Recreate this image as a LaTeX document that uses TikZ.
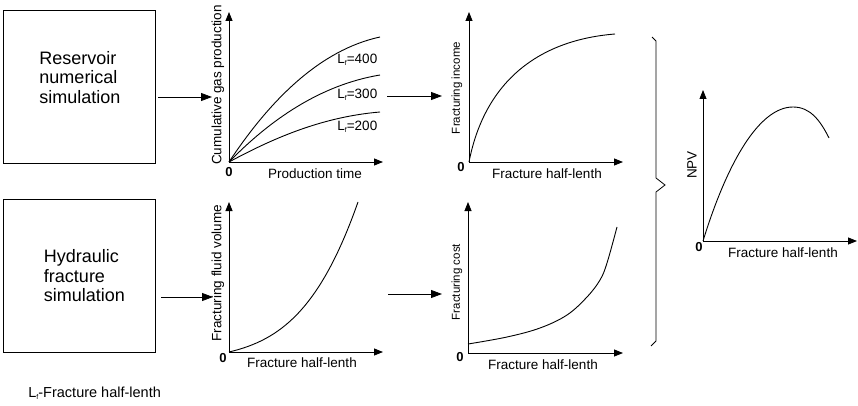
\documentclass[tikz,border=0pt]{standalone}
\usepackage{fontspec}
\setmainfont{Liberation Sans}
\usetikzlibrary{arrows.meta}
\newcommand{\Lsubf}{L\raisebox{-2.5pt}{\fontsize{7}{7}\selectfont f}}
\begin{document}
\begin{tikzpicture}[x=1pt,y=-1pt,line width=0.8pt,
  axis/.style={-{Triangle[length=9pt,width=7pt]}},
  flow/.style={-{Triangle[length=11pt,width=8pt]}},
  crv/.style={line width=0.9pt},
  lab/.style={font=\fontsize{13.5}{15}\selectfont,inner sep=0pt},
  slab/.style={font=\fontsize{11.5}{13}\selectfont,inner sep=0pt},
  zero/.style={font=\fontsize{13}{14}\selectfont\bfseries,inner sep=0pt},
  boxtxt/.style={font=\fontsize{18}{19.5}\selectfont,align=left,inner sep=0pt},
  simbox/.style={draw,minimum width=152pt,minimum height=153pt,inner sep=0pt}]
\useasboundingbox (0,0) rectangle (858,406);

% boxes
\node[simbox] (box1) at (79,86.5) {};
\node[boxtxt] (box1t) at (80,77.5) {Reservoir\\numerical\\simulation};
\node[simbox] (box2) at (79,276) {};
\node[boxtxt] (box2t) at (84.5,276) {Hydraulic\\fracture\\simulation};

% arrow coordinates
\coordinate (a1) at (212,97);
\coordinate (a2) at (213,297);
\draw[flow] (box1.east |- a1) ++(3,0) -- (a1);
\draw[flow] (box2.east |- a2) ++(6,0) -- (a2);
\coordinate (m1s) at (387,96);
\coordinate (m1e) at (442,96);
\coordinate (m2s) at (388,294);
\coordinate (m2e) at (442,294);
\draw[flow] (m1s) -- (m1e);
\draw[flow] (m2s) -- (m2e);

% graph 1: cumulative gas production
\coordinate (o1) at (229,162);
\coordinate (y1) at (229,12);
\coordinate (x1) at (383,162);
\draw[axis] (o1) -- (y1);
\draw[axis] (o1) -- (x1);
\draw[crv] (o1) .. controls (270,100) and (320,50) .. (380,37);
\draw[crv] (o1) .. controls (270,120) and (320,85) .. (380,75);
\draw[crv] (o1) .. controls (270,140) and (320,117) .. (380,112);
\node[lab,anchor=west] (l400) at (337,60) {\Lsubf=400};
\node[lab,anchor=west] (l300) at (337,95) {\Lsubf=300};
\node[lab,anchor=west] (l200) at (337,127) {\Lsubf=200};
\node[zero] (z1) at (229,172) {0};
\node[lab] (xl1) at (315,174) {Production time};
\node[lab,rotate=90] (yl1) at (218,85) {Cumulative gas production};

% graph 2: fracturing income
\coordinate (o2) at (469,162);
\coordinate (y2) at (469,12);
\coordinate (x2) at (623,162);
\draw[axis] (o2) -- (y2);
\draw[axis] (o2) -- (x2);
\draw[crv] (o2) .. controls (485,80) and (540,40) .. (615,34);
\node[zero] (z2) at (461,167) {0};
\node[lab] (xl2) at (547,174) {Fracture half-lenth};
\node[slab,rotate=90] (yl2) at (457,88) {Fracturing income};

% graph 3: fracturing fluid volume
\coordinate (o3) at (229,352);
\coordinate (y3) at (229,202);
\coordinate (x3) at (383,352);
\draw[axis] (o3) -- (y3);
\draw[axis] (o3) -- (x3);
\draw[crv] (o3) .. controls (280,340) and (320,310) .. (358,202);
\node[zero] (z3) at (223,358) {0};
\node[lab] (xl3) at (302,363) {Fracture half-lenth};
\node[lab,rotate=90] (yl3) at (218,273) {Fracturing fluid volume};

% graph 4: fracturing cost
\coordinate (o4) at (468,353);
\coordinate (y4) at (468,202);
\coordinate (x4) at (623,353);
\draw[axis] (o4) -- (y4);
\draw[axis] (o4) -- (x4);
\draw[crv,smooth,tension=0.6] plot coordinates {(468,344) (507,337) (540,328) (567,315) (587,297) (600,280) (607,263) (617,227)};
\node[zero] (z4) at (460,357) {0};
\node[lab] (xl4) at (543,365) {Fracture half-lenth};
\node[slab,rotate=90] (yl4) at (457,282) {Fracturing cost};

% brace
\draw[line width=0.8pt] (652,37) -- (656,41) -- (656,178) -- (665,185) -- (656,192) -- (656,341) -- (651,346);

% graph 5: NPV
\coordinate (o5) at (703,241);
\coordinate (y5) at (703,90);
\coordinate (x5) at (857,241);
\draw[axis] (o5) -- (y5);
\draw[axis] (o5) -- (x5);
\draw[crv] (o5) .. controls (728,160) and (760,107) .. (793,107) .. controls (810,107) and (820,120) .. (829,138);
\node[zero] (z5) at (699,247) {0};
\node[lab] (xl5) at (783,253) {Fracture half-lenth};
\node[lab,rotate=90] (yl5) at (692,165) {NPV};

% footnote
\node[font=\fontsize{14.5}{16}\selectfont,inner sep=0pt,anchor=west] (foot) at (28,393) {\Lsubf-Fracture half-lenth};
\end{tikzpicture}
\end{document}
